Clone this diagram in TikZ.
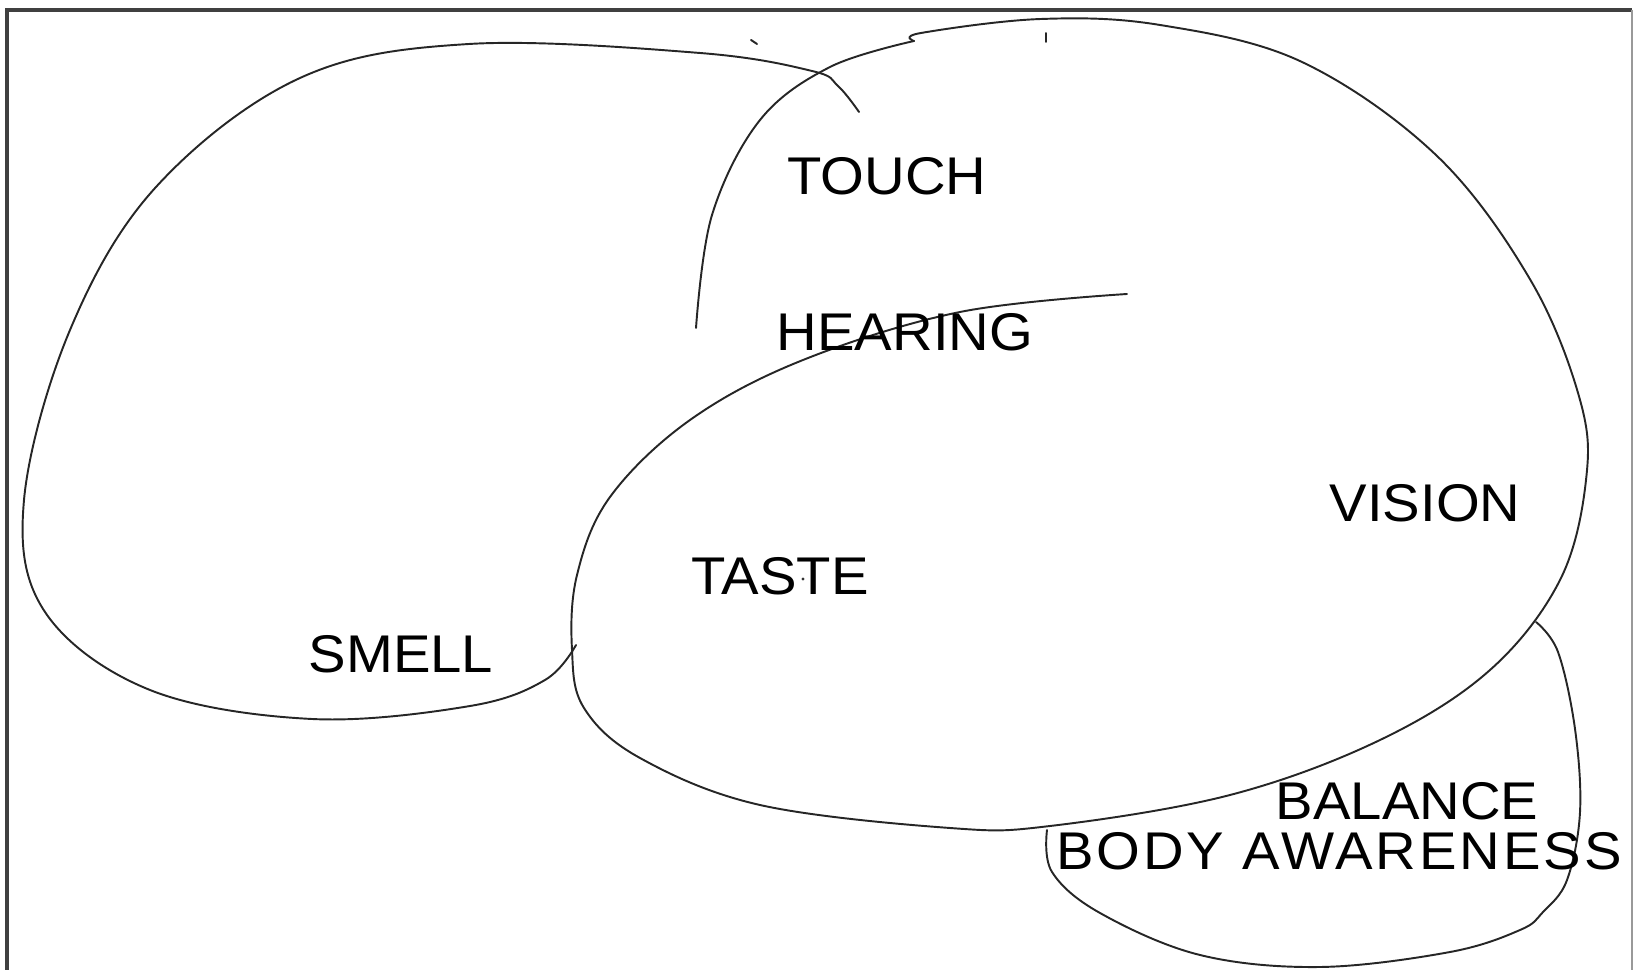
\documentclass[tikz,border=0pt]{standalone}
\usepackage{fontspec}
\setmainfont[FakeStretch=1.06]{Liberation Sans}
\newfontfamily\spreadfont[FakeStretch=1.06,LetterSpace=5.6]{Liberation Sans}
\usepackage{tikz}
\tikzset{
	lobe/.style={draw=black!85, line width=0.55pt, line cap=round, line join=round},
	frm/.style={draw=black!75, line width=0.9pt},
	frmlight/.style={draw=black!40, line width=0.35pt},
	sense/.style={inner sep=0pt, anchor=base, font=\fontsize{15.1pt}{18pt}\selectfont},
}

\begin{document}
\begin{tikzpicture}[x=0.1mm, y=-0.1mm]
	\useasboundingbox (0,0) rectangle (1633,970);
	% open frame
	\draw[frm] (7,970) -- (7,10) -- (1632,10);
	\draw[frmlight] (1632,10) -- (1632,970);
	% frontal lobe
	\draw[lobe] plot[smooth, tension=0.6] coordinates {(859,112) (838,86) (812,71) (700,53) (469,44) (300,78) (156,187) (70,330) (24,500) (45,612) (150,690) (312,719) (470,706) (545,680) (576,645)};
	% parietal and occipital outline, round the temporal lobe
	\draw[lobe] plot[smooth, tension=0.6] coordinates {(696,328) (712,215) (760,120) (830,67) (914,41)};
	\draw[lobe] plot[smooth, tension=0.6] coordinates {(914,41) (921,33) (1041,19) (1160,25) (1302,62) (1437,156) (1531,281) (1580,400) (1586,480) (1560,580) (1490,670) (1380,740) (1230,795) (1050,826) (950,828) (760,805) (640,758) (584,708) (572,650) (577,575) (610,497) (690,420) (803,360) (960,312) (1127,294)};
	% cerebellum
	\draw[lobe] plot[smooth, tension=0.6] coordinates {(1047,830) (1052,872) (1100,913) (1200,955) (1320,967) (1450,952) (1520,930) (1543,912) (1567,880) (1580,812) (1575,729) (1558,652) (1536,622)};
	% stray marks
	\draw[lobe] (751,40) -- (757,44);
	\draw[lobe] (1046,33) -- (1046,42);
	\fill[black!80] (803,579) circle (1.6);
	% senses
	\node[sense] at (887,195) (touch) {TOUCH};
	\node[sense] at (905,351) (hearing) {HEARING};
	\node[sense] at (1425,522) (vision) {VISION};
	\node[sense] at (780,595) (taste) {TASTE};
	\node[sense] at (401,673) (smell) {SMELL};
	\node[sense] at (1407,820) (balance) {BALANCE};
	\node[sense, font=\fontsize{15.1pt}{18pt}\spreadfont] at (1339,869) (body) {BODY AWARENESS};
\end{tikzpicture}
\end{document}
